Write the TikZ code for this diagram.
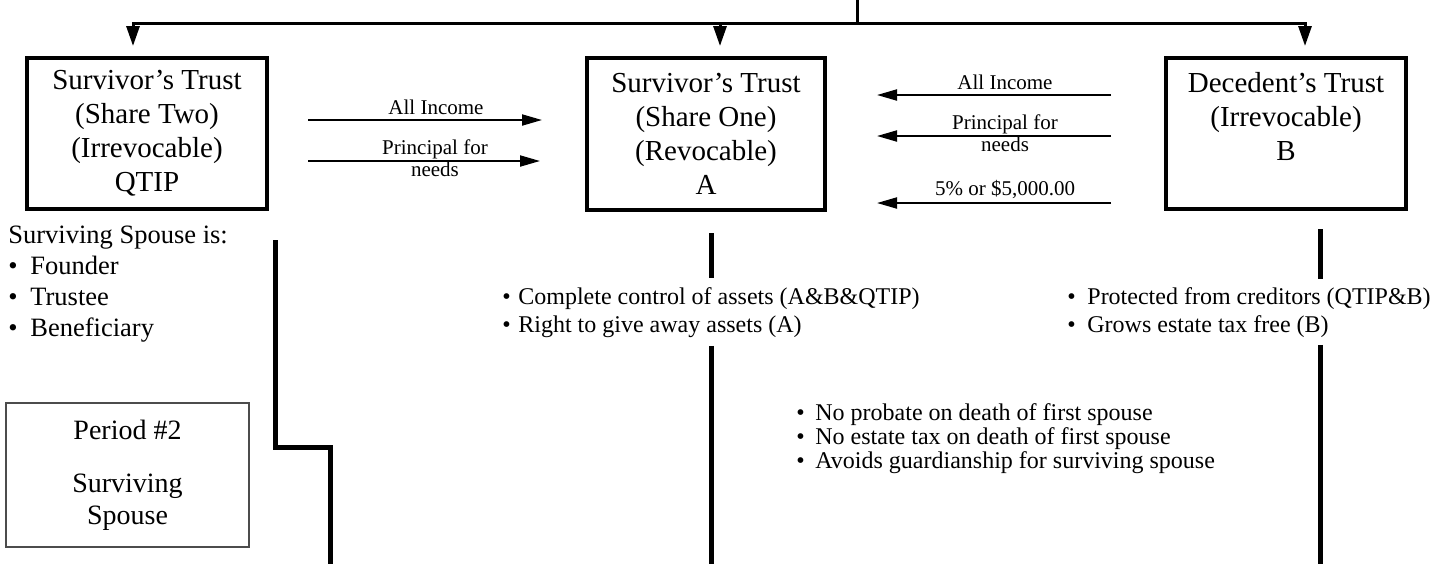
\documentclass[tikz,border=0pt]{standalone}
\usepackage{fontspec}
\setmainfont{Liberation Serif}
\usetikzlibrary{arrows.meta, positioning}

\tikzset{
    trustbox/.style={draw, line width=2pt, align=center, inner sep=0pt, font=\fontsize{14.5}{17}\selectfont},
    bus/.style={line width=1.5pt, line cap=rect},
    drop/.style={line width=1.5pt, -{Triangle[length=10pt, width=6.5pt]}, shorten >=5pt},
    flow/.style={line width=1pt, -{Triangle[length=10pt, width=5.5pt]}},
    lbl/.style={font=\fontsize{10.5}{11}\selectfont, align=center, inner sep=0pt},
    spine/.style={line width=2.5pt},
    notes/.style={align=left, inner sep=0pt, anchor=north west, font=\fontsize{12}{14}\selectfont},
}
\newcommand{\bul}[1][8pt]{\makebox[#1][l]{•}}

\begin{document}
\begin{tikzpicture}[x=0.5pt, y=-0.5pt]
    \useasboundingbox (0,0) rectangle (1456,564);

    % the three trusts
    \node[trustbox, minimum width=120pt, minimum height=75.5pt] (qtip) at (147,133.5)
        {Survivor’s Trust\\(Share Two)\\(Irrevocable)\\QTIP};
    \node[trustbox, minimum width=119pt, minimum height=76pt] (shareA) at (706,134)
        {Survivor’s Trust\\(Share One)\\(Revocable)\\A};
    \node[trustbox, minimum width=120pt, minimum height=75.5pt] (shareB) at (1286,133.5)
        {Decedent’s Trust\\(Irrevocable)\\B\\\phantom{A}};

    % feed from above
    \coordinate (feed) at (857,0);
    \coordinate (busW) at (133,23);
    \coordinate (busM) at (720,23);
    \coordinate (busE) at (1305,23);
    \draw[bus] (feed) -- (feed |- busW);
    \draw[bus] (busW) -- (busE);
    \draw[drop] (busW) -- (busW |- qtip.north);
    \draw[drop] (busM) -- (busM |- shareA.north);
    \draw[drop] (busE) -- (busE |- shareB.north);

    % QTIP to A
    \coordinate (qtipInc) at (308,120);   \coordinate (aIncL) at (542,120);
    \coordinate (qtipNeed) at (308,161);  \coordinate (aNeedL) at (540,161);
    \draw[flow] (qtipInc) -- node[lbl, above=2pt, xshift=5.5pt] (incomeL) {All Income} (aIncL);
    \draw[flow] (qtipNeed) -- node[lbl, yshift=1.5pt, xshift=5.5pt] (needsL) {Principal for\\needs} (aNeedL);

    % B to A
    \coordinate (bInc) at (1111,95);      \coordinate (aIncR) at (877,95);
    \coordinate (bNeed) at (1111,136);    \coordinate (aNeedR) at (877,136);
    \coordinate (bFive) at (1111,203);    \coordinate (aFiveR) at (877,203);
    \draw[flow] (bInc) -- node[lbl, above=2pt, xshift=5.5pt] (incomeR) {All Income} (aIncR);
    \draw[flow] (bNeed) -- node[lbl, yshift=1.5pt, xshift=5.5pt] (needsR) {Principal for\\needs} (aNeedR);
    \draw[flow] (bFive) -- node[lbl, above=1.5pt, xshift=5.5pt] (fiveR) {5\% or \$5,000.00} (aFiveR);

    % notes under the trusts
    \node[notes, font=\fontsize{13.25}{15.5}\selectfont] (spouseIs) at (8,226)
        {Surviving Spouse is:\\\bul[11pt]Founder\\\bul[11pt]Trustee\\\bul[11pt]Beneficiary};
    \node[notes] (notesA) at (502,287)
        {\bul Complete control of assets (A\&B\&QTIP)\\\bul Right to give away assets (A)};
    \node[notes] (notesB) at (1067,287)
        {\bul[10pt]Protected from creditors (QTIP\&B)\\\bul[10pt]Grows estate tax free (B)};
    \node[notes, font=\fontsize{12}{11}\selectfont] (firstDeath) at (796,403)
        {\bul[9.5pt]No probate on death of first spouse\\\bul[9.5pt]No estate tax on death of first spouse\\\bul[9.5pt]Avoids guardianship for surviving spouse};

    % period box
    \node[draw=black!70, line width=0.6pt, minimum width=121.5pt, minimum height=72pt, align=center,
        font=\fontsize{14}{16}\selectfont] (period) at (127.5,475)
        {Period \#2\\[10.5pt]Surviving\\Spouse};

    % time lines
    \coordinate (floor) at (0,564);
    \coordinate (qtipFoot) at (275,240);
    \coordinate (qtipStep) at (330,447);
    \coordinate (aFoot) at (711,233);
    \coordinate (bFoot) at (1320,229);
    \draw[spine] (qtipFoot) |- (qtipStep) -- (qtipStep |- floor);
    \draw[spine, shorten >=4.5pt] (aFoot) -- (aFoot |- notesA.north);
    \draw[spine, shorten <=4pt] (aFoot |- notesA.south) -- (aFoot |- floor);
    \draw[spine, shorten >=4pt] (bFoot) -- (bFoot |- notesB.north);
    \draw[spine, shorten <=3.5pt] (bFoot |- notesB.south) -- (bFoot |- floor);
\end{tikzpicture}
\end{document}
